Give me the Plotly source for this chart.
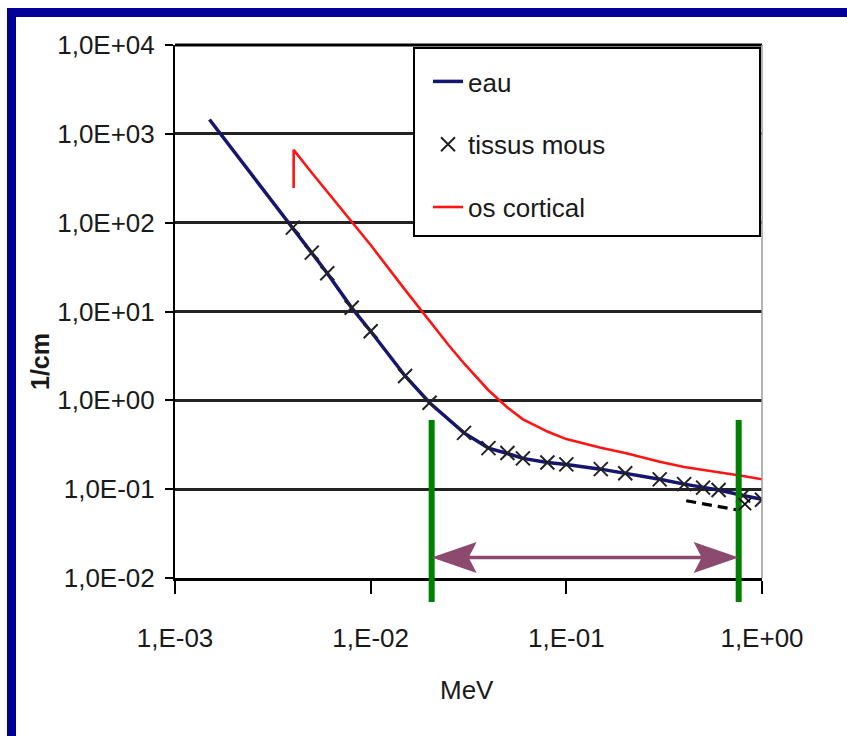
import math
import plotly.graph_objects as go

# ---------------- data ----------------
E_eau = [1.5e-3, 2e-3, 3e-3, 4e-3, 5e-3, 6e-3, 8e-3, 1e-2, 1.5e-2, 2e-2, 3e-2, 4e-2,
         5e-2, 6e-2, 8e-2, 0.1, 0.15, 0.2, 0.3, 0.4, 0.5, 0.6, 0.8, 1.0]
mu_eau = [1450, 632, 195, 88, 46, 27, 11.0, 6.0, 1.88, 0.94, 0.43, 0.29,
          0.252, 0.222, 0.200, 0.190, 0.168, 0.151, 0.129, 0.114, 0.104, 0.098, 0.085, 0.077]

E_tissus = [4e-3, 5e-3, 6e-3, 8e-3, 1e-2, 1.5e-2, 2e-2, 3e-2, 4e-2, 5e-2, 6e-2, 8e-2,
            0.1, 0.15, 0.2, 0.3, 0.4, 0.5, 0.6, 0.8, 1.0]
mu_tissus = [88, 46, 27, 11.0, 6.0, 1.88, 0.94, 0.43, 0.29, 0.255, 0.222, 0.200,
             0.190, 0.168, 0.151, 0.129, 0.114, 0.104, 0.098, 0.085, 0.076]

E_os = [4.04e-3, 4.04e-3, 5e-3, 6e-3, 8e-3, 1e-2, 1.5e-2, 2e-2, 2.5e-2, 3e-2, 3.5e-2, 4e-2,
        5e-2, 6e-2, 7e-2, 8e-2, 0.1, 0.15, 0.2, 0.3, 0.4, 0.5, 0.6, 0.8, 1.0]
mu_os = [245, 660, 365, 223, 103, 56, 17.5, 7.7, 4.2, 2.6, 1.80, 1.30,
         0.83, 0.61, 0.515, 0.445, 0.366, 0.292, 0.256, 0.204, 0.178, 0.166, 0.156, 0.141, 0.129]

E_dash = [0.41, 0.76]
mu_dash = [0.074, 0.058]

E_cross = 0.76
mu_cross = 0.058

range_bounds = [0.0205, 0.76]      # green vertical lines (MeV)
green_top = 0.6                    # 1/cm
arrow_level = 0.017                # 1/cm

y_tickvals = [1e-2, 1e-1, 1e0, 1e1, 1e2, 1e3, 1e4]
y_ticktext = ["1,0E-02", "1,0E-01", "1,0E+00", "1,0E+01", "1,0E+02", "1,0E+03", "1,0E+04"]
x_tickvals = [1e-3, 1e-2, 1e-1, 1e0]
x_ticktext = ["1,E-03", "1,E-02", "1,E-01", "1,E+00"]

# ---------------- layout geometry ----------------
W, H = 847, 736
L, R, T, B = 175, 85, 45, 158
PW, PH = W - L - R, H - T - B
YMIN, YMAX = -2, 4


def px_x(px):
    return (px - L) / PW


def px_y(py):
    return (H - B - py) / PH


def data_y_to_paper(v):
    return (math.log10(v) - YMIN) / (YMAX - YMIN)


FONT = "Liberation Sans, Arial, sans-serif"
TXT = "#1a1a1a"
FS = 26

fig = go.Figure()

fig.add_trace(go.Scatter(
    x=E_eau, y=mu_eau, mode="lines", name="eau", legendgroup="g1",
    line=dict(color="#16166e", width=3.5)))
fig.add_trace(go.Scatter(
    x=E_tissus, y=mu_tissus, mode="markers", name="tissus mous", legendgroup="g2",
    marker=dict(symbol="x-thin", size=14, color="#222222",
                line=dict(color="#222222", width=2))))
fig.add_trace(go.Scatter(
    x=E_os, y=mu_os, mode="lines", name="os cortical", legendgroup="g3",
    line=dict(color="#ff1414", width=2.6)))
fig.add_trace(go.Scatter(
    x=E_dash, y=mu_dash, mode="lines", showlegend=False,
    line=dict(color="black", width=3.2, dash="10px,6px")))

shapes = []
# blue frame
shapes.append(dict(type="rect", xref="paper", yref="paper",
                   x0=px_x(7), x1=px_x(W + 5), y0=px_y(17), y1=px_y(8),
                   fillcolor="#000099", line=dict(width=0)))
shapes.append(dict(type="rect", xref="paper", yref="paper",
                   x0=px_x(7), x1=px_x(16), y0=px_y(H + 5), y1=px_y(8),
                   fillcolor="#000099", line=dict(width=0)))
# plot area borders (top thick, right thin grey)
shapes.append(dict(type="line", xref="paper", yref="paper", x0=0, x1=1, y0=1, y1=1,
                   line=dict(color="black", width=3)))
shapes.append(dict(type="line", xref="paper", yref="paper", x0=1, x1=1, y0=0, y1=1,
                   line=dict(color="#9a9a9a", width=1.5)))
# legend box
shapes.append(dict(type="rect", xref="paper", yref="paper", layer="above",
                   x0=px_x(414), x1=px_x(760), y0=px_y(236), y1=px_y(48),
                   fillcolor="white", line=dict(color="black", width=2)))
# green range lines
for e in range_bounds:
    shapes.append(dict(type="line", xref="x", yref="paper", layer="above",
                       x0=e, x1=e, y0=-0.045, y1=data_y_to_paper(green_top),
                       line=dict(color="#008000", width=6)))
# double arrow
ARROW = "#8c4a6e"
shapes.append(dict(type="line", xref="x", yref="y", layer="above",
                   x0=range_bounds[0] * 1.08, x1=range_bounds[1] / 1.08,
                   y0=arrow_level, y1=arrow_level,
                   line=dict(color=ARROW, width=3.5)))
shapes.append(dict(type="path", xref="x", yref="y", layer="above",
                   xsizemode="pixel", ysizemode="pixel",
                   xanchor=range_bounds[1], yanchor=arrow_level,
                   path="M0,0 L-45,15.5 L-37,0 L-45,-15.5 Z",
                   fillcolor=ARROW, line=dict(width=0)))
shapes.append(dict(type="path", xref="x", yref="y", layer="above",
                   xsizemode="pixel", ysizemode="pixel",
                   xanchor=range_bounds[0], yanchor=arrow_level,
                   path="M0,0 L45,15.5 L37,0 L45,-15.5 Z",
                   fillcolor=ARROW, line=dict(width=0)))
# big thin cross
for s in (1, -1):
    shapes.append(dict(type="line", xref="x", yref="y", layer="above",
                       xsizemode="pixel", ysizemode="pixel",
                       xanchor=E_cross, yanchor=mu_cross,
                       x0=-12.5, x1=12.5, y0=-12 * s, y1=12 * s,
                       line=dict(color="black", width=1.6)))

annotations = [
    dict(text="MeV", xref="paper", yref="paper", x=px_x(467), y=px_y(690),
         showarrow=False, xanchor="center", yanchor="middle",
         font=dict(family=FONT, size=FS, color=TXT)),
    dict(text="<b>1/cm</b>", xref="paper", yref="paper", x=px_x(40), y=px_y(362),
         showarrow=False, xanchor="center", yanchor="middle", textangle=-90,
         font=dict(family=FONT, size=25, color=TXT)),
]

fig.update_layout(
    width=W, height=H, autosize=False,
    margin=dict(l=L, r=R, t=T, b=B, pad=0),
    paper_bgcolor="white", plot_bgcolor="white",
    font=dict(family=FONT, size=FS, color=TXT),
    shapes=shapes, annotations=annotations,
    showlegend=True,
    legend=dict(x=px_x(428), y=px_y(58), xanchor="left", yanchor="top",
                bgcolor="rgba(0,0,0,0)", borderwidth=0,
                font=dict(family=FONT, size=FS, color=TXT),
                tracegroupgap=26, traceorder="grouped"),
    xaxis=dict(type="log", range=[-3, 0], tickvals=x_tickvals, ticktext=x_ticktext,
               showgrid=False, zeroline=False, showline=True, linecolor="black",
               linewidth=3, ticks="outside", ticklen=13, tickwidth=2, tickcolor="black",
               ticklabelstandoff=22, tickfont=dict(family=FONT, size=FS, color=TXT)),
    yaxis=dict(type="log", range=[YMIN, YMAX], tickvals=y_tickvals, ticktext=y_ticktext,
               showgrid=True, gridcolor="#222222", gridwidth=2.5, zeroline=False,
               showline=True, linecolor="black", linewidth=2, ticks="outside",
               ticklen=8, tickwidth=2, tickcolor="black", ticklabelstandoff=5,
               tickfont=dict(family=FONT, size=FS, color=TXT)),
)

fig.write_html("out.html")
